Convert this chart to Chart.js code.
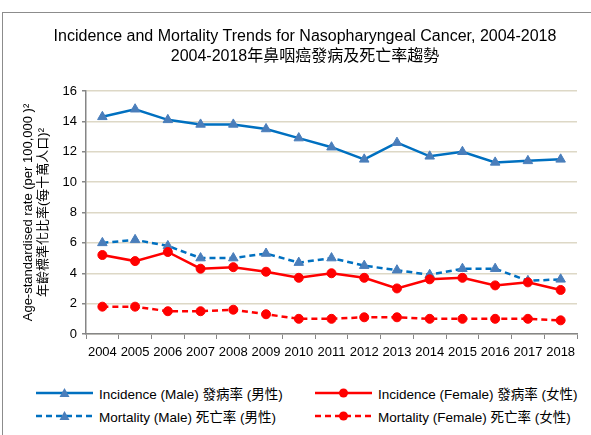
<!DOCTYPE html>
<html>
<head>
<meta charset="utf-8">
<script src="https://cdn.jsdelivr.net/npm/chart.js@4.4.1/dist/chart.umd.min.js"></script>
<style>
  body { margin: 0; background: #fff; font-family: "Liberation Sans", Arial, "Noto Sans CJK TC", sans-serif; }
  #frame { position: absolute; left: 2px; top: 12px; width: 640px; height: 440px; border: 1px solid #8c8c8c; }
  #wrap { position: absolute; left: 0; top: 0; width: 591px; height: 370px; }
  #legend { position: absolute; left: 0; top: 0; width: 591px; font-size: 13.5px; color: #000; }
  .item { position: absolute; display: flex; align-items: center; white-space: nowrap; height: 20px; }
  .item svg { margin-right: 6px; }
</style>
</head>
<body>
<div id="frame"></div>
<div id="wrap"><canvas id="chart"></canvas></div>
<div id="legend"></div>
<script>
const years = ['2004', '2005', '2006', '2007', '2008', '2009', '2010', '2011', '2012', '2013', '2014', '2015', '2016', '2017', '2018'];
const incidenceMale   = [14.3, 14.8, 14.1, 13.8, 13.8, 13.5, 12.9, 12.3, 11.5, 12.6, 11.7, 12.0, 11.3, 11.4, 11.5];
const mortalityMale   = [6.0, 6.2, 5.8, 5.0, 5.0, 5.3, 4.7, 5.0, 4.5, 4.2, 3.9, 4.3, 4.3, 3.5, 3.6];
const incidenceFemale = [5.2, 4.8, 5.4, 4.3, 4.4, 4.1, 3.7, 4.0, 3.7, 3.0, 3.6, 3.7, 3.2, 3.4, 2.9];
const mortalityFemale = [1.8, 1.8, 1.5, 1.5, 1.6, 1.3, 1.0, 1.0, 1.1, 1.1, 1.0, 1.0, 1.0, 1.0, 0.9];

const seriesLabels = [
  'Incidence (Male) 發病率 (男性)',
  'Incidence (Female) 發病率 (女性)',
  'Mortality (Male) 死亡率 (男性)',
  'Mortality (Female) 死亡率 (女性)'
];
const titleLines = ['Incidence and Mortality Trends for Nasopharyngeal Cancer, 2004-2018', '2004-2018年鼻咽癌發病及死亡率趨勢'];
const yTitleLines = ['Age-standardised rate (per 100,000 )\u00B2', '年齡標準化比率(每十萬人口)\u00B2'];
const yMin = 0, yMax = 16, yStep = 2;

const FONT = '"Liberation Sans", Arial, "Noto Sans CJK TC", sans-serif';
const BLUE = '#0070C0', BLUE_MK = '#4A7EBB', RED = '#FF0000';
const GRID = '#DDD8C6', AXIS = '#868686';

Chart.defaults.font.family = FONT;
Chart.defaults.font.size = 13;
Chart.defaults.color = '#000';

// two-line title, centred like the original (not on the canvas centre)
const topTitle = {
  id: 'topTitle',
  afterDraw(chart) {
    const ctx = chart.ctx;
    ctx.save();
    ctx.font = '16px ' + FONT;
    ctx.fillStyle = '#000';
    ctx.textAlign = 'center';
    ctx.textBaseline = 'middle';
    titleLines.forEach((t, i) => ctx.fillText(t, 305, 37 + i * 20));
    ctx.restore();
  }
};

function series(label, data, color, markColor, style, dashed) {
  return {
    label: label,
    data: data,
    borderColor: color,
    backgroundColor: markColor,
    borderWidth: 2.5,
    borderDash: dashed ? [6, 4] : [],
    pointStyle: style,
    pointRadius: style === 'triangle' ? 5.5 : 4.5,
    pointBackgroundColor: markColor,
    pointBorderColor: markColor,
    pointBorderWidth: 1,
    tension: 0,
    fill: false
  };
}

new Chart(document.getElementById('chart'), {
  type: 'line',
  data: {
    labels: years,
    datasets: [
      series(seriesLabels[0], incidenceMale, BLUE, BLUE_MK, 'triangle', false),
      series(seriesLabels[1], incidenceFemale, RED, RED, 'circle', false),
      series(seriesLabels[2], mortalityMale, BLUE, BLUE_MK, 'triangle', true),
      series(seriesLabels[3], mortalityFemale, RED, RED, 'circle', true)
    ]
  },
  options: {
    responsive: true,
    maintainAspectRatio: false,
    animation: false,
    layout: { padding: { top: 91, right: 14, left: 0, bottom: 0 } },
    plugins: {
      legend: { display: false },
      title: { display: false },
      tooltip: { enabled: false }
    },
    scales: {
      x: {
        offset: true,
        grid: { display: true, offset: true, drawOnChartArea: false, color: AXIS, tickLength: 5, lineWidth: 1 },
        border: { color: AXIS, width: 1.5 },
        ticks: { padding: 6, maxRotation: 0, autoSkip: false },
        afterFit: (scale) => { scale.height = 36; }
      },
      y: {
        min: yMin,
        max: yMax,
        ticks: { stepSize: yStep, padding: 5 },
        grid: { color: GRID, lineWidth: 1.5, tickColor: AXIS, tickLength: 4 },
        border: { color: AXIS, width: 1.5 },
        title: {
          display: true,
          text: yTitleLines,
          font: { size: 13, lineHeight: '15px' },
          padding: { top: 21, bottom: 0 }
        },
        afterFit: (scale) => { scale.width = 86; }
      }
    }
  },
  plugins: [topTitle]
});

// legend in two columns below the plot
const legend = document.getElementById('legend');
const legendPos = [
  { left: 36, top: 383 },
  { left: 315, top: 383 },
  { left: 36, top: 406 },
  { left: 315, top: 406 }
];
const legendStyle = [
  { color: BLUE, mark: BLUE_MK, shape: 'triangle', dashed: false },
  { color: RED, mark: RED, shape: 'circle', dashed: false },
  { color: BLUE, mark: BLUE_MK, shape: 'triangle', dashed: true },
  { color: RED, mark: RED, shape: 'circle', dashed: true }
];
seriesLabels.forEach((label, i) => {
  const s = legendStyle[i];
  const dash = s.dashed ? ' stroke-dasharray="6,4"' : '';
  const mark = s.shape === 'triangle'
    ? `<polygon points="23.5,14 33.5,14 28.5,5" fill="${s.mark}"/>`
    : `<circle cx="28.5" cy="10" r="4.5" fill="${s.mark}"/>`;
  const div = document.createElement('div');
  div.className = 'item';
  div.style.left = legendPos[i].left + 'px';
  div.style.top = legendPos[i].top + 'px';
  div.innerHTML = `<svg width="57" height="20"><line x1="0" y1="10" x2="57" y2="10" stroke="${s.color}" stroke-width="2.5"${dash}/>${mark}</svg><span>${label}</span>`;
  legend.appendChild(div);
});
</script>
</body>
</html>
